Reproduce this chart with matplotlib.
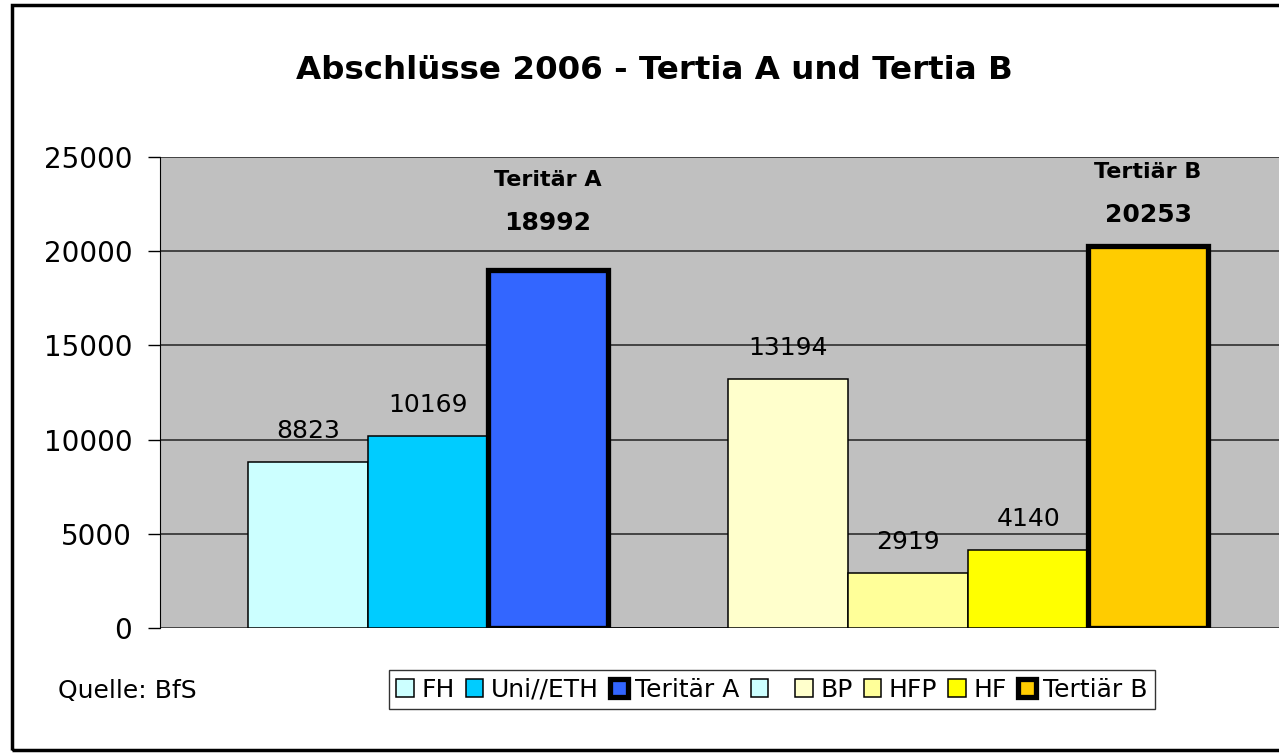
import numpy as np
import matplotlib
matplotlib.use("Agg")
import matplotlib.pyplot as plt
from matplotlib.patches import Rectangle

plt.rcParams['font.family'] = ['DejaVu Sans']

# data
series = ["FH", "Uni//ETH", "Teritär A", "", "BP", "HFP", "HF", "Tertiär B"]
values = [8823, 10169, 18992, 0, 13194, 2919, 4140, 20253]
colors = ["#CCFFFF", "#00CCFF", "#3366FF", "#CCFFFF",
          "#FFFFCC", "#FFFF99", "#FFFF00", "#FFCC00"]
thick = [False, False, True, False, False, False, False, True]
yticks = [0, 5000, 10000, 15000, 20000, 25000]

fig = plt.figure(figsize=(12.79, 7.55), dpi=100)
ax = fig.add_axes([0.1251, 0.1682, 0.8749, 0.6238])
ax.set_facecolor("#C0C0C0")

bars = []
for i, (name, v, c, t) in enumerate(zip(series, values, colors, thick)):
    b = ax.bar(i, v, width=1.0, color=c, edgecolor="black",
               linewidth=3.8 if t else 1.1, zorder=3)
    bars.append(b[0])

# value labels
for i, (name, v, t) in enumerate(zip(series, values, thick)):
    if v == 0:
        continue
    if t:
        off = 47 if i == 2 else 31
        ax.annotate(str(v), (i, v), xytext=(0, off * 0.72), textcoords="offset points",
                    ha="center", va="center", fontsize=18, fontweight="bold")
        ax.annotate(name, (i, v), xytext=(0, (off + 43) * 0.72), textcoords="offset points",
                    ha="center", va="center", fontsize=16, fontweight="bold")
    else:
        ax.annotate(str(v), (i, v), xytext=(0, 31 * 0.72), textcoords="offset points",
                    ha="center", va="center", fontsize=18)

ax.set_xlim(-1.233, 8.09)
ax.set_ylim(0, 25000)
ax.set_yticks(yticks)
ax.set_yticklabels([str(t) for t in yticks], fontsize=20)
ax.set_xticks([])
ax.yaxis.grid(True, color="#222222", linewidth=1.1, zorder=1)
ax.set_axisbelow(True)
for s in ["top", "right", "bottom"]:
    ax.spines[s].set_visible(False)
ax.spines["left"].set_color("black")
ax.tick_params(axis="y", length=9, width=1, color="black", pad=11)

fig.suptitle("Abschlüsse 2006 - Tertia A und Tertia B", x=0.512, y=0.907,
             fontsize=23.4, fontweight="bold", va="center")

leg = fig.legend(handles=bars, labels=[s if s else " " for s in series],
                 loc="center", bbox_to_anchor=(0.6035, 0.0861), ncol=8,
                 fontsize=18, frameon=True, fancybox=False, edgecolor="black",
                 handlelength=0.7, handleheight=0.7, handletextpad=0.3,
                 columnspacing=0.45, borderpad=0.3, borderaxespad=0)
leg.get_frame().set_linewidth(1.0)

fig.text(0.0453, 0.085, "Quelle: BfS", fontsize=18, va="center")

fig.patches.append(Rectangle((12 / 1279, 5 / 755), 1.0, 745 / 755,
                             transform=fig.transFigure, fill=False,
                             edgecolor="black", linewidth=2.5, clip_on=False))

fig.savefig("out.png", dpi=100)
